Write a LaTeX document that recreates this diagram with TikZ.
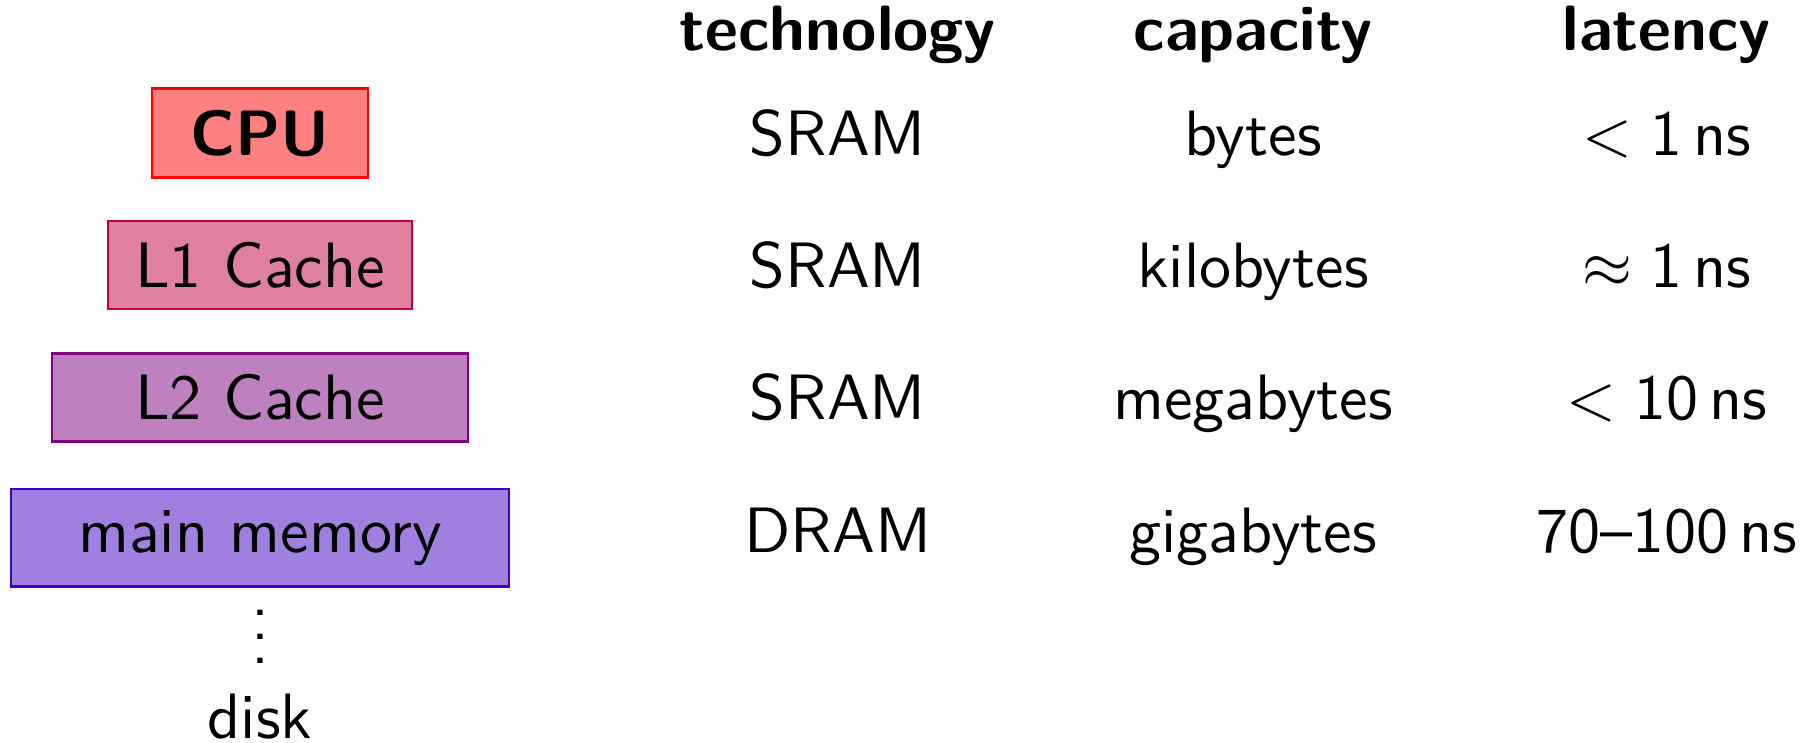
\RequirePackage{fix-cm}
\documentclass[tikz,border=0pt]{standalone}
\usepackage{tikz}
\tikzset{
  level/.style={draw=#1, fill=#1!50, anchor=base, inner xsep=0pt, inner ysep=3.5pt},
  cell/.style={anchor=base},
}
\begin{document}
\begin{tikzpicture}[x=1cm,y=1cm, font=\sffamily\fontsize{10.6}{12.7}\selectfont]
		\useasboundingbox (0,0) rectangle (10.57,-4.312);
		% the levels of the hierarchy
		\node[level=red, minimum width=1.255cm] (cpu) at (1.511,-0.901) {\bfseries CPU};
		\node[level=red!75!blue, minimum width=1.766cm] (lone) at (1.511,-1.670) {L1 Cache};
		\node[level=red!50!blue, minimum width=2.417cm] (ltwo) at (1.511,-2.439) {L2 Cache};
		\node[level=red!25!blue, minimum width=2.894cm] (mem) at (1.511,-3.208) {main memory};
		\node[inner sep=0pt] (dots) at (1.511,-3.594) {$\vdots$};
		\node[cell] (disk) at (1.511,-4.289) {disk};
		% column heads
		\node[cell] (htech) at (4.869,-0.291) {\bfseries technology};
		\node[cell] (hcap) at (7.281,-0.291) {\bfseries capacity};
		\node[cell] (hlat) at (9.686,-0.291) {\bfseries latency};
		% table rows
		\foreach \tech/\cap/\lat [count=\i] in {SRAM/bytes/{$<$\;1\,ns},
				SRAM/kilobytes/{$\approx$\;1\,ns}, SRAM/megabytes/{$<$\;10\,ns},
				DRAM/gigabytes/{70--100\,ns}} {
			\node[cell] (tech\i) at (4.869,{-0.901-(\i-1)*0.7693}) {\tech};
			\node[cell] (cap\i) at (7.281,{-0.901-(\i-1)*0.7693}) {\cap};
			\node[cell] (lat\i) at (9.686,{-0.901-(\i-1)*0.7693}) {\lat};
		}
	\end{tikzpicture}
\end{document}
